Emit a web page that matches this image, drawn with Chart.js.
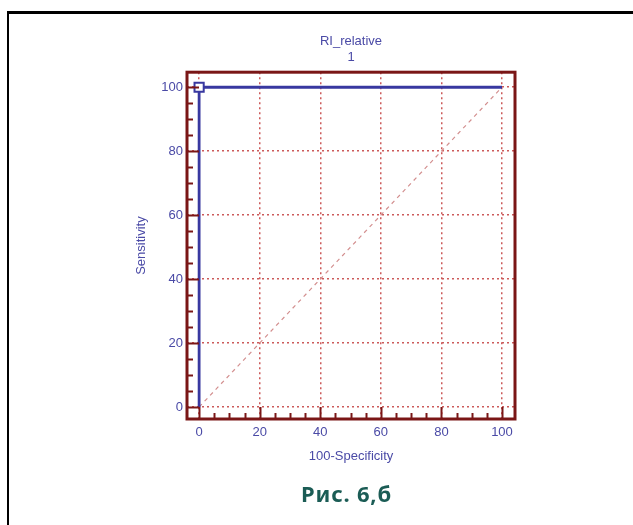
<!DOCTYPE html>
<html>
<head>
<meta charset="utf-8">
<script src="https://cdn.jsdelivr.net/npm/chart.js@4"></script>
<style>
  html, body { margin: 0; padding: 0; background: #fff; }
  body { width: 633px; height: 525px; position: relative; overflow: hidden; }
  .rule-top { position: absolute; left: 7px; right: 0; top: 11px; height: 3px; background: #000; }
  .rule-left { position: absolute; left: 7px; top: 11px; bottom: 0; width: 2px; background: #000; }
  #wrap { position: absolute; left: 100px; top: 20px; width: 503px; height: 460px; }
  .caption { position: absolute; left: 301px; top: 478px; font: bold 22px "Noto Sans", sans-serif; letter-spacing: 0.8px; color: #1b5c55; white-space: nowrap; }
</style>
</head>
<body>
<div class="rule-top"></div>
<div class="rule-left"></div>
<div id="wrap"><canvas id="roc" width="503" height="460"></canvas></div>
<div class="caption">Рис. 6,б</div>
<script>
// ROC curve points (100-Specificity, Sensitivity)
const rocX = [0, 0, 100];
const rocY = [0, 100, 100];
// reference diagonal
const diagX = [0, 100];
const diagY = [0, 100];
const tickValues = [0, 20, 40, 60, 80, 100];
const minorStep = 5;

const textBlue = '#4a4aa6';
const lineBlue = '#3838a0';
const frameRed = '#7a1616';
const gridRed = '#cc5a5a';

const frameAndTicks = {
    id: 'frameAndTicks',
    afterDatasetsDraw(chart) {
        const { ctx, chartArea: a, scales } = chart;
        ctx.save();
        ctx.strokeStyle = frameRed;
        ctx.lineWidth = 2;
        // inward ticks on bottom and left
        for (let v = 0; v <= 100; v += minorStep) {
            const len = v % 20 === 0 ? 12 : 6;
            const px = Math.round(scales.x.getPixelForValue(v)) + 0.5;
            ctx.beginPath();
            ctx.moveTo(px, a.bottom);
            ctx.lineTo(px, a.bottom - len);
            ctx.stroke();
            const py = Math.round(scales.y.getPixelForValue(v)) + 0.5;
            ctx.beginPath();
            ctx.moveTo(a.left, py);
            ctx.lineTo(a.left + len, py);
            ctx.stroke();
        }
        ctx.lineWidth = 3;
        ctx.strokeRect(a.left, a.top, a.right - a.left, a.bottom - a.top);
        ctx.restore();
    }
};

const fixTicks = (scale) => {
    scale.ticks = tickValues.map(v => ({ value: v }));
};

new Chart(document.getElementById('roc'), {
    type: 'scatter',
    data: {
        datasets: [{
            label: 'ROC',
            data: rocX.map((x, i) => ({ x: x, y: rocY[i] })),
            showLine: true,
            borderColor: lineBlue,
            borderWidth: 2.8,
            pointStyle: 'rect',
            pointRadius: [0, 6.5, 0],
            pointBackgroundColor: '#fff',
            pointBorderColor: lineBlue,
            pointBorderWidth: 2,
            order: 1
        }, {
            label: 'Diagonal',
            data: diagX.map((x, i) => ({ x: x, y: diagY[i] })),
            showLine: true,
            borderColor: '#d38f8f',
            borderWidth: 1.2,
            borderDash: [4, 4],
            pointRadius: 0,
            order: 2
        }]
    },
    options: {
        responsive: false,
        animation: false,
        layout: { padding: { top: 0, left: 30, right: 88, bottom: 10 } },
        scales: {
            x: {
                type: 'linear',
                min: -4,
                max: 104.3,
                afterBuildTicks: fixTicks,
                afterFit: (s) => { s.height = 51; },
                grid: { color: gridRed, lineWidth: 1.5, drawTicks: false },
                border: { display: false, dash: [2, 3] },
                ticks: { color: textBlue, padding: 6, font: { family: 'Liberation Sans, Arial', size: 13 } },
                title: {
                    display: true,
                    text: '100-Specificity',
                    color: textBlue,
                    padding: { top: 0, bottom: 6 },
                    font: { family: 'Liberation Sans, Arial', size: 13 }
                }
            },
            y: {
                type: 'linear',
                min: -3.75,
                max: 104.7,
                afterBuildTicks: fixTicks,
                afterFit: (s) => { s.width = 57; },
                grid: { color: gridRed, lineWidth: 1.5, drawTicks: false },
                border: { display: false, dash: [2, 3] },
                ticks: { color: textBlue, padding: 4, font: { family: 'Liberation Sans, Arial', size: 13 } },
                title: {
                    display: true,
                    text: 'Sensitivity',
                    color: textBlue,
                    padding: { top: 4, bottom: 0 },
                    font: { family: 'Liberation Sans, Arial', size: 13 }
                }
            }
        },
        plugins: {
            legend: { display: false },
            tooltip: { enabled: false },
            title: {
                display: true,
                fullSize: false,
                text: ['RI_relative', '1'],
                color: textBlue,
                font: { family: 'Liberation Sans, Arial', size: 13, weight: 'normal' },
                padding: { top: 14, bottom: 7 }
            }
        }
    },
    plugins: [frameAndTicks]
});
</script>
</body>
</html>
